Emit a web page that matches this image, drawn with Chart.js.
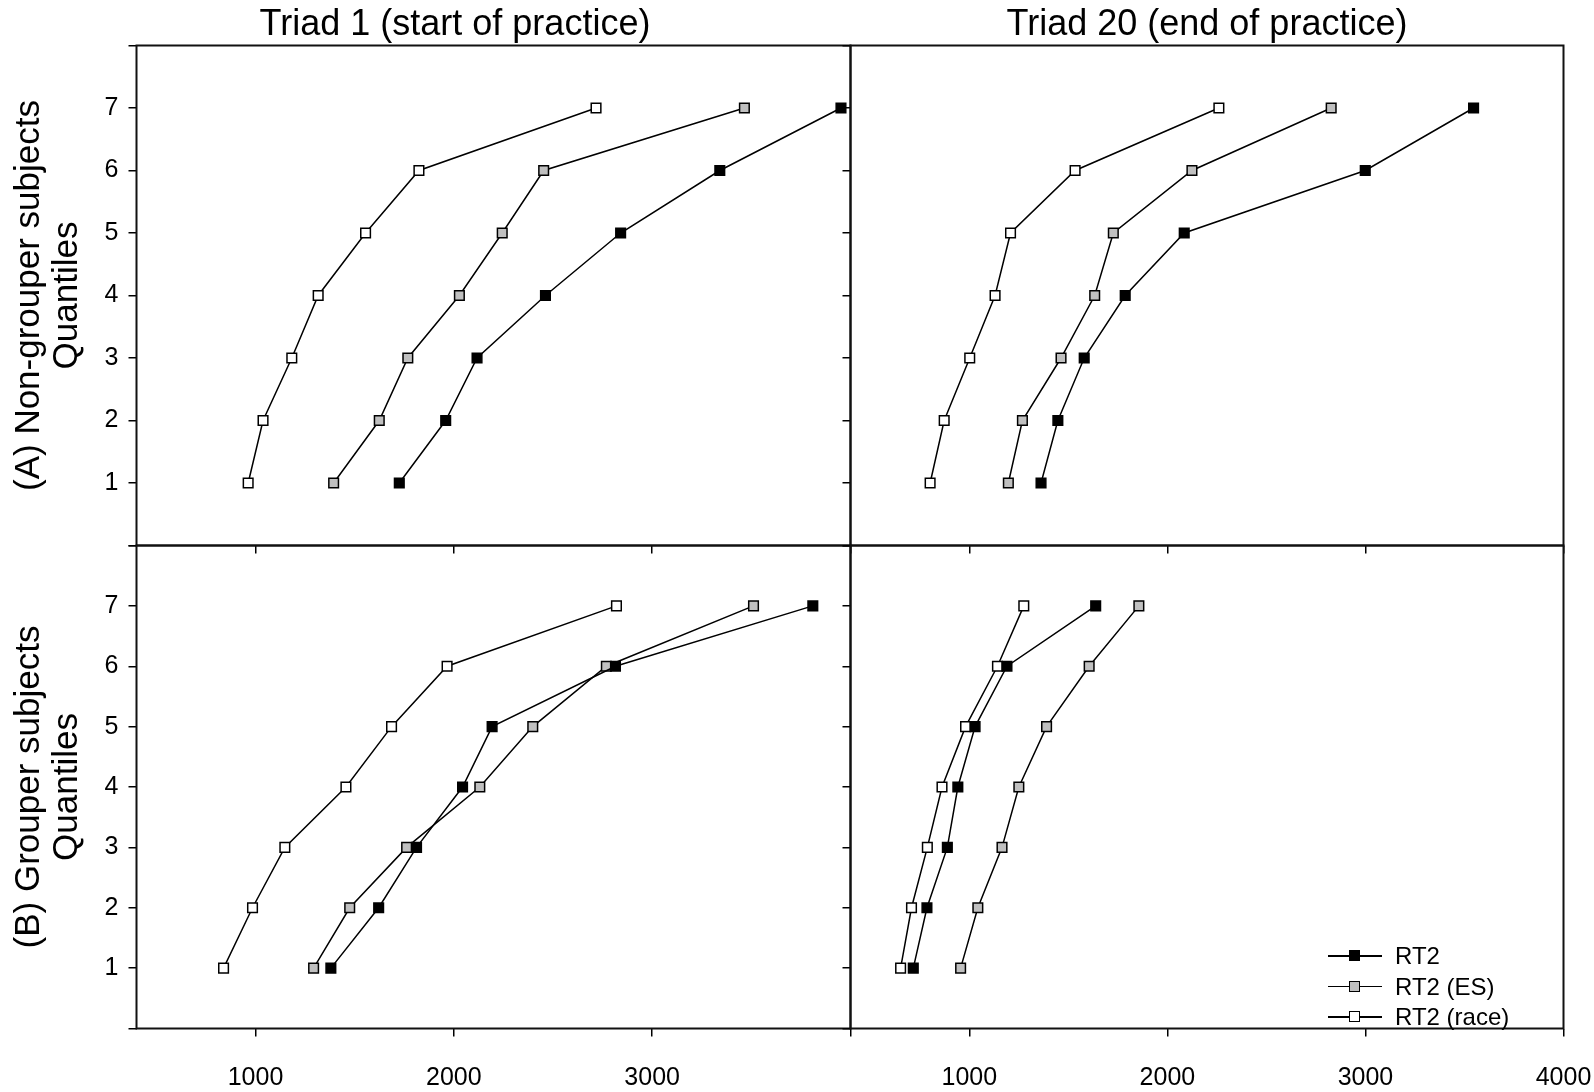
<!DOCTYPE html>
<html>
<head>
<meta charset="utf-8">
<title>RT2 quantiles</title>
<script src="https://cdn.jsdelivr.net/npm/chart.js@4.4.0/dist/chart.umd.min.js"></script>
<style>
    body{margin:0;background:#fff;}
    #wrap{position:relative;width:1594px;height:1092px;overflow:hidden;background:#fff;
          font-family:"Liberation Sans",Arial,sans-serif;}
    #wrap canvas{position:absolute;}
    .ptitle{position:absolute;top:2px;width:700px;height:42px;line-height:42px;
            font-size:36px;text-align:center;color:#000;white-space:nowrap;}
    #legend{position:absolute;left:1328px;top:941px;font-size:24px;color:#000;}
    .row{height:30.5px;display:flex;align-items:center;white-space:nowrap;}
    .sym{position:relative;width:54px;height:30px;margin-right:13px;}
    .sym .ln{position:absolute;left:0;right:0;top:14px;height:1.5px;background:#000;}
    .sym .sq{position:absolute;left:21px;top:9px;width:9px;height:9px;border:1.5px solid #000;}
</style>
</head>
<body>
<div id="wrap">
    <canvas id="tl"></canvas>
    <canvas id="tr"></canvas>
    <canvas id="bl"></canvas>
    <canvas id="br"></canvas>
    <div class="ptitle" id="title1" style="left:105px"></div>
    <div class="ptitle" id="title2" style="left:857px"></div>
    <div id="legend"></div>
</div>
<script>
// quantile numbers (y) and tick labels
const quantiles = [1, 2, 3, 4, 5, 6, 7];
const yTicks = [0, 1, 2, 3, 4, 5, 6, 7, 8];
const yLabels = ['', '1', '2', '3', '4', '5', '6', '7', ''];
const xTicks = [1000, 2000, 3000, 4000];
const xLabelsLeft = ['1000', '2000', '3000', ''];
const xLabelsRight = ['1000', '2000', '3000', '4000'];

const panelTitles = ['Triad 1 (start of practice)', 'Triad 20 (end of practice)'];
const seriesNames = ['RT2', 'RT2 (ES)', 'RT2 (race)'];
const seriesFills = ['#000000', '#c0c0c0', '#ffffff'];

// (A) Non-grouper subjects, triad 1 / triad 20
const aStartRT2 = [1725, 1959, 2117, 2462, 2841, 3341, 3952];
const aStartES = [1394, 1624, 1768, 2028, 2244, 2453, 3465];
const aStartRace = [963, 1038, 1183, 1316, 1555, 1824, 2717];
const aEndRT2 = [1362, 1447, 1580, 1787, 2085, 2999, 3546];
const aEndES = [1197, 1268, 1463, 1633, 1727, 2124, 2827];
const aEndRace = [802, 873, 1002, 1130, 1208, 1534, 2260];

// (B) Grouper subjects, triad 1 / triad 20
const bStartRT2 = [1380, 1621, 1812, 2044, 2193, 2815, 3810];
const bStartES = [1293, 1475, 1762, 2131, 2398, 2769, 3511];
const bStartRace = [839, 985, 1148, 1456, 1686, 1966, 2820];
const bEndRT2 = [717, 786, 889, 942, 1029, 1190, 1638];
const bEndES = [956, 1043, 1165, 1250, 1390, 1605, 1856];
const bEndRace = [653, 708, 788, 862, 981, 1142, 1275];

Chart.defaults.font.family = '"Liberation Sans", Arial, sans-serif';
Chart.defaults.color = '#000';

// box around each panel
const frame = {
    id: 'frame',
    afterDatasetsDraw(chart) {
        const a = chart.chartArea;
        const c = chart.ctx;
        c.save();
        c.strokeStyle = '#111';
        c.lineWidth = 2;
        c.strokeRect(a.left, a.top, a.right - a.left, a.bottom - a.top);
        c.restore();
    }
};

function quantileChart(id, box, series, o) {
    const cv = document.getElementById(id);
    cv.width = box.w;
    cv.height = box.h;
    cv.style.left = box.x + 'px';
    cv.style.top = box.y + 'px';

    const datasets = series.map((vals, i) => ({
        label: seriesNames[i],
        data: vals.map((v, k) => ({x: v, y: quantiles[k]})),
        showLine: true,
        borderColor: '#000',
        borderWidth: 1.5,
        pointStyle: 'rect',
        pointRadius: 6.8,
        pointHoverRadius: 6.8,
        pointBackgroundColor: seriesFills[i],
        pointBorderColor: '#000',
        pointBorderWidth: 1.5
    }));

    const tickGrid = {drawOnChartArea: false, tickLength: 8, color: '#000', lineWidth: 1.5};

    const config = {
        type: 'scatter',
        data: {datasets: datasets},
        options: {
            responsive: false,
            animation: false,
            devicePixelRatio: 1,
            layout: {padding: box.pad},
            plugins: {
                legend: {display: false},
                tooltip: {enabled: false}
            },
            scales: {
                x: {
                    type: 'linear',
                    min: 400,
                    max: 4000,
                    afterBuildTicks: s => { s.ticks = xTicks.map(v => ({value: v})); },
                    ticks: {
                        autoSkip: false,
                        maxRotation: 0,
                        padding: 27,
                        font: {size: 25},
                        callback: (v, i) => o.xLabels ? o.xLabels[i] : ''
                    },
                    grid: tickGrid,
                    border: {display: false},
                    afterFit: s => { s.height = box.xh; }
                },
                y: {
                    type: 'linear',
                    min: 0,
                    max: 8,
                    afterBuildTicks: s => { s.ticks = yTicks.map(v => ({value: v})); },
                    ticks: {
                        autoSkip: false,
                        padding: 10,
                        font: {size: 25},
                        callback: (v, i) => o.yTitle ? yLabels[i] : ''
                    },
                    grid: tickGrid,
                    border: {display: false},
                    title: {
                        display: !!o.yTitle,
                        text: o.yTitle,
                        font: {size: 35, lineHeight: 1.1},
                        color: '#000',
                        padding: {top: 10, bottom: 0}
                    },
                    afterFit: s => { s.width = box.yw; }
                }
            }
        },
        plugins: [frame]
    };

    new Chart(cv.getContext('2d'), config);
}

quantileChart('tl',
    {x: 0, y: 0, w: 910, h: 572, yw: 136.5, xh: 14.5, pad: {left: 0, right: 59.5, top: 45.5, bottom: 12}},
    [aStartRT2, aStartES, aStartRace],
    {yTitle: ['(A) Non-grouper subjects', 'Quantiles']});

quantileChart('tr',
    {x: 820, y: 0, w: 774, h: 572, yw: 8, xh: 14.5, pad: {left: 22.5, right: 30.5, top: 45.5, bottom: 12}},
    [aEndRT2, aEndES, aEndRace],
    {});

quantileChart('bl',
    {x: 0, y: 515, w: 910, h: 577, yw: 136.5, xh: 63.5, pad: {left: 0, right: 59.5, top: 30.5, bottom: 0}},
    [bStartRT2, bStartES, bStartRace],
    {yTitle: ['(B) Grouper subjects', 'Quantiles'], xLabels: xLabelsLeft});

quantileChart('br',
    {x: 820, y: 515, w: 800, h: 577, yw: 8, xh: 63.5, pad: {left: 22.5, right: 56.5, top: 30.5, bottom: 0}},
    [bEndRT2, bEndES, bEndRace],
    {xLabels: xLabelsRight});

document.getElementById('title1').textContent = panelTitles[0];
document.getElementById('title2').textContent = panelTitles[1];

// legend, bottom right panel
const legend = document.getElementById('legend');
seriesNames.forEach((name, i) => {
    const row = document.createElement('div');
    row.className = 'row';
    row.innerHTML = '<span class="sym"><span class="ln"></span><span class="sq" style="background:' +
        seriesFills[i] + '"></span></span><span>' + name + '</span>';
    legend.appendChild(row);
});
</script>
</body>
</html>
